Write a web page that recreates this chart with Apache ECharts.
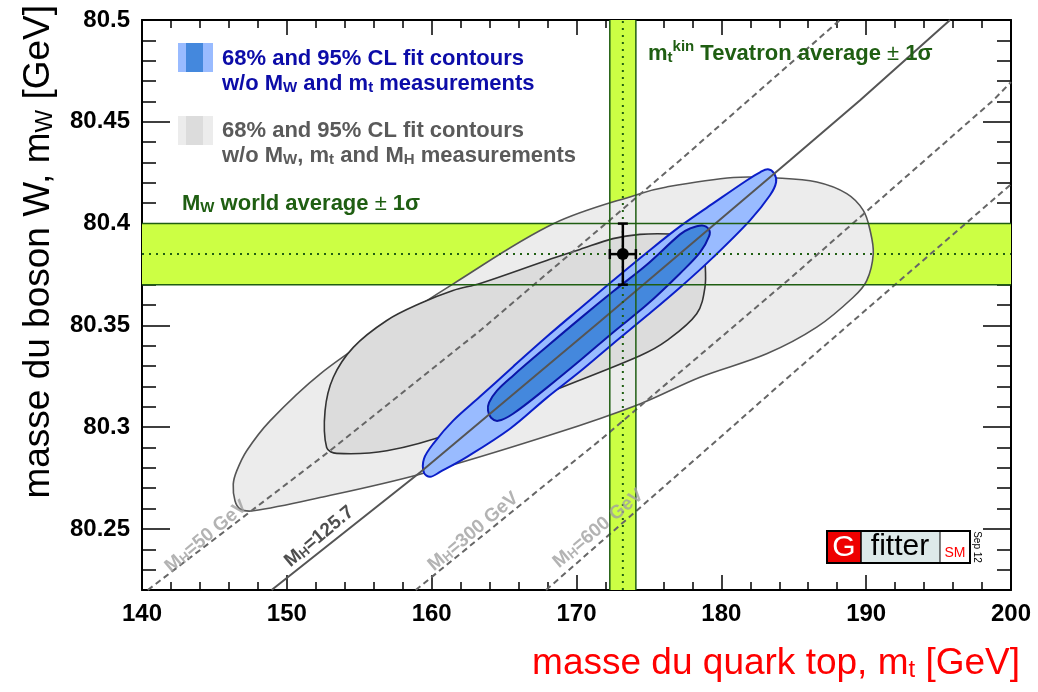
<!DOCTYPE html>
<html>
<head>
<meta charset="utf-8">
<script src="https://cdn.jsdelivr.net/npm/echarts@6/dist/echarts.min.js"></script>
<style>
  html, body { margin: 0; padding: 0; background: #fff; }
  #chart { width: 1038px; height: 692px; }
</style>
</head>
<body>
<div id="chart"></div>
<script>
// ---- axes ----
const mtRange = [140, 200];
const mwRange = [80.22, 80.5];
const xTickStep = 10;
const yTickValues = [80.25, 80.3, 80.35, 80.4, 80.45, 80.5];
const yTickLabels = ['80.25', '80.3', '80.35', '80.4', '80.45', '80.5'];
const yMinorTicks = [];
for (let k = 8022; k <= 8050; k++) yMinorTicks.push(k / 100);

// ---- measurements ----
const mwWorld = 80.385, mwWorldErr = 0.015;
const mtTevatron = 173.2, mtTevatronErr = 0.9;

// ---- fit contours [m_t, M_W] ----
// without M_W, m_t and M_H measurements
const fitFree95 = [
  [146.30, 80.2720], [146.54, 80.2785], [147.23, 80.2884], [148.84, 80.3031], [152.29, 80.3261],
  [156.90, 80.3491], [161.49, 80.3704], [168.40, 80.3999], [174.38, 80.4147], [176.23, 80.4180],
  [180.83, 80.4226], [183.82, 80.4224], [186.59, 80.4204], [188.66, 80.4147], [189.80, 80.4065],
  [190.27, 80.3967], [190.49, 80.3852], [190.04, 80.3720], [189.11, 80.3638], [186.59, 80.3491],
  [183.13, 80.3360], [178.53, 80.3245], [174.38, 80.3114], [168.40, 80.2966], [159.19, 80.2769],
  [152.29, 80.2654], [147.68, 80.2589], [146.77, 80.2598], [146.42, 80.2638]
];
const fitFree68 = [
  [152.64, 80.3081], [153.21, 80.3245], [154.59, 80.3392], [156.90, 80.3524], [159.19, 80.3607],
  [161.47, 80.3671], [163.34, 80.3706], [167.94, 80.3819], [170.24, 80.3873], [172.52, 80.3926],
  [174.38, 80.3947], [176.46, 80.3949], [178.18, 80.3937], [178.76, 80.3907], [178.87, 80.3819],
  [178.87, 80.3688], [178.30, 80.3557], [176.23, 80.3425], [174.38, 80.3351], [168.40, 80.3179],
  [161.49, 80.2974], [156.90, 80.2884], [153.44, 80.2871], [152.75, 80.2900]
];
// without M_W and m_t measurements (M_H included)
const fitHiggs95 = [
  [159.47, 80.2845], [160.16, 80.2923], [161.47, 80.3031], [163.34, 80.3150], [165.62, 80.3297],
  [167.96, 80.3445], [170.24, 80.3583], [172.52, 80.3720], [174.87, 80.3858], [177.15, 80.3986],
  [179.43, 80.4099], [181.77, 80.4213], [182.67, 80.4252], [183.22, 80.4267], [183.64, 80.4247],
  [183.78, 80.4203], [183.36, 80.4139], [181.98, 80.4016], [179.43, 80.3834], [177.15, 80.3686],
  [174.87, 80.3548], [172.52, 80.3410], [170.24, 80.3273], [167.96, 80.3145], [165.41, 80.2992],
  [162.44, 80.2854], [160.58, 80.2780], [159.89, 80.2756], [159.47, 80.2776]
];
const fitHiggs68 = [
  [164.58, 80.3031], [165.62, 80.3066], [167.96, 80.3194], [170.24, 80.3327], [172.52, 80.3465],
  [174.87, 80.3602], [177.15, 80.3755], [178.53, 80.3858], [179.15, 80.3937], [179.15, 80.3971],
  [178.67, 80.3991], [177.84, 80.3976], [177.15, 80.3947], [174.87, 80.3799], [172.52, 80.3666],
  [170.24, 80.3533], [167.96, 80.3396], [165.62, 80.3253], [164.51, 80.3179], [163.96, 80.3120],
  [163.89, 80.3081], [164.10, 80.3046]
];

// ---- SM prediction for fixed M_H ----
const lineMH50 = [[140.4, 80.22], [152.98, 80.2884], [163.34, 80.3474], [177.15, 80.4311], [188.19, 80.5]];
const lineMH125 = [[148.95, 80.22], [159.19, 80.2777], [171.62, 80.3519], [184.74, 80.4311], [189.58, 80.4606], [195.79, 80.5]];
const lineMH300 = [[158.9, 80.22], [171.85, 80.2949], [184.74, 80.3730], [198.78, 80.4606], [200, 80.4695]];
const lineMH600 = [[167.9, 80.22], [179.91, 80.2949], [184.74, 80.3253], [200, 80.4193]];
const mhLineNames = ['50 GeV', '125.7', '300 GeV', '600 GeV'];

// label anchors along the M_H lines (data coordinates)
const mhLabelAnchors = [[144.35, 80.2470], [152.15, 80.2470], [162.79, 80.2494], [171.42, 80.2509]];
const mhLabelColors = ['#a0a0a0', '#222222', '#a0a0a0', '#a0a0a0'];

// ---- styling ----
const FONT = '"Liberation Sans", Arial, Helvetica, sans-serif';
const GREEN = '#1f5e12';
const BAND = '#ccff44';

function richSet(size, weight, color) {
  const small = Math.round(size * 0.66);
  return {
    b: { fontSize: size, fontWeight: weight, fontFamily: FONT, color: color, fill: color, lineHeight: size + 4, verticalAlign: 'bottom' },
    n: { fontSize: size, fontWeight: 'normal', fontFamily: FONT, color: color, fill: color, lineHeight: size + 4, verticalAlign: 'bottom' },
    s: { fontSize: small, fontWeight: weight, fontFamily: FONT, color: color, fill: color, lineHeight: 4, verticalAlign: 'bottom' },
    p: { fontSize: small, fontWeight: weight, fontFamily: FONT, color: color, fill: color, lineHeight: 6, verticalAlign: 'top' }
  };
}

function contour(pts, fill, stroke, width, z) {
  return {
    type: 'custom', coordinateSystem: 'cartesian2d', z: z, silent: true, clip: true,
    data: [pts[0]],
    renderItem: function (params, api) {
      return {
        type: 'polygon',
        shape: { points: pts.map(function (p) { return api.coord(p); }), smooth: 0.35 },
        style: { fill: fill, stroke: stroke, lineWidth: width }
      };
    }
  };
}

function mhLine(pts, color, dash) {
  return {
    type: 'line', data: pts, symbol: 'none', showSymbol: false, silent: true, z: 8,
    lineStyle: { color: color, width: 2, type: dash }
  };
}

const axisLineStyle = { color: '#000', width: 2 };
const tickStyle = { color: '#000', width: 1.5 };

function xAxisDef(pos, labels) {
  return {
    type: 'value', position: pos, min: mtRange[0], max: mtRange[1], interval: xTickStep,
    axisLine: { show: true, onZero: false, lineStyle: axisLineStyle },
    axisTick: { show: true, inside: true, length: 15, lineStyle: tickStyle },
    minorTick: { show: true, splitNumber: 5, length: 8, lineStyle: tickStyle },
    axisLabel: { show: labels, margin: 12, color: '#000', fontSize: 24, fontWeight: 'bold', fontFamily: FONT },
    splitLine: { show: false }, minorSplitLine: { show: false }
  };
}
function yAxisDef(pos, values, len, labels, line) {
  return {
    type: 'value', position: pos, min: mwRange[0], max: mwRange[1],
    axisLine: { show: line, onZero: false, lineStyle: axisLineStyle },
    axisTick: { show: true, inside: true, length: len, lineStyle: tickStyle, customValues: values },
    axisLabel: {
      show: labels, customValues: values, margin: 12, color: '#000', fontSize: 24, fontWeight: 'bold', fontFamily: FONT,
      showMinLabel: true, showMaxLabel: true,
      formatter: function (v) {
        const i = yTickValues.findIndex(function (t) { return Math.abs(t - v) < 1e-6; });
        return i >= 0 ? yTickLabels[i] : '';
      }
    },
    splitLine: { show: false }
  };
}

const chart = echarts.init(document.getElementById('chart'));

const option = {
  animation: false,
  backgroundColor: '#fff',
  grid: { left: 142, right: 27, top: 20, bottom: 102, containLabel: false, outerBoundsMode: 'none' },
  xAxis: [xAxisDef('bottom', true), xAxisDef('top', false)],
  yAxis: [
    yAxisDef('left', yTickValues, 28, true, true),
    yAxisDef('left', yMinorTicks, 14, false, false),
    yAxisDef('right', yTickValues, 28, false, true),
    yAxisDef('right', yMinorTicks, 14, false, false)
  ],
  series: [
    // 1 sigma bands of the direct measurements
    {
      type: 'line', data: [], z: 1, silent: true,
      markArea: {
        silent: true, itemStyle: { color: BAND },
        data: [
          [{ yAxis: mwWorld - mwWorldErr }, { yAxis: mwWorld + mwWorldErr }],
          [{ xAxis: mtTevatron - mtTevatronErr }, { xAxis: mtTevatron + mtTevatronErr }]
        ]
      }
    },
    contour(fitFree95, '#ececec', '#555555', 1.6, 2),
    contour(fitFree68, '#dcdcdc', '#333333', 1.6, 3),
    contour(fitHiggs95, '#99bbff', '#0b1ec8', 2, 4),
    contour(fitHiggs68, '#4488dd', '#0a16a8', 2, 5),
    // band edges and central values
    {
      type: 'custom', coordinateSystem: 'cartesian2d', z: 9, silent: true,
      data: [[mtTevatron, mwWorld, mtTevatronErr, mwWorldErr]],
      renderItem: function (params, api) {
        const x = api.value(0), y = api.value(1), ex = api.value(2), ey = api.value(3);
        const solid = { stroke: GREEN, lineWidth: 1.5 };
        const dotted = { stroke: GREEN, lineWidth: 2, lineDash: [2, 5] };
        const hLine = function (v, st) {
          const a = api.coord([mtRange[0], v]), b = api.coord([mtRange[1], v]);
          return { type: 'line', shape: { x1: a[0], y1: a[1], x2: b[0], y2: b[1] }, style: st };
        };
        const vLine = function (v, st) {
          const a = api.coord([v, mwRange[0]]), b = api.coord([v, mwRange[1]]);
          return { type: 'line', shape: { x1: a[0], y1: a[1], x2: b[0], y2: b[1] }, style: st };
        };
        return {
          type: 'group',
          children: [
            hLine(y - ey, solid), hLine(y + ey, solid), hLine(y, dotted),
            vLine(x - ex, solid), vLine(x + ex, solid), vLine(x, dotted)
          ]
        };
      }
    },
    mhLine(lineMH50, '#666666', [6, 4]),
    mhLine(lineMH125, '#555555', 'solid'),
    mhLine(lineMH300, '#666666', [6, 4]),
    mhLine(lineMH600, '#666666', [6, 4]),
    // M_H labels along the lines
    {
      type: 'scatter', silent: true, z: 12, symbolSize: 1,
      itemStyle: { color: 'rgba(0,0,0,0)' },
      data: mhLabelAnchors.map(function (p, i) {
        return {
          value: p,
          label: {
            show: true, position: 'inside', rotate: 40,
            formatter: '{b|M}{s|H}{b|=' + mhLineNames[i] + '}',
            rich: richSet(19, 'bold', mhLabelColors[i])
          }
        };
      })
    },
    // measured point with 1 sigma errors
    {
      type: 'custom', coordinateSystem: 'cartesian2d', z: 20, silent: true,
      data: [[mtTevatron, mwWorld, mtTevatronErr, mwWorldErr]],
      renderItem: function (params, api) {
        const x = api.value(0), y = api.value(1), ex = api.value(2), ey = api.value(3);
        const c = api.coord([x, y]);
        const l = api.coord([x - ex, y]), r = api.coord([x + ex, y]);
        const t = api.coord([x, y + ey]), b = api.coord([x, y - ey]);
        const cap = 5;
        const st = { stroke: '#000', lineWidth: 2.5 };
        const seg = function (x1, y1, x2, y2) { return { type: 'line', shape: { x1: x1, y1: y1, x2: x2, y2: y2 }, style: st }; };
        return {
          type: 'group',
          children: [
            seg(l[0], l[1], r[0], r[1]),
            seg(t[0], t[1], b[0], b[1]),
            seg(t[0] - cap, t[1], t[0] + cap, t[1]),
            seg(b[0] - cap, b[1], b[0] + cap, b[1]),
            seg(l[0], l[1] - cap, l[0], l[1] + cap),
            seg(r[0], r[1] - cap, r[0], r[1] + cap),
            { type: 'circle', shape: { cx: c[0], cy: c[1], r: 6 }, style: { fill: '#000' } }
          ]
        };
      }
    }
  ],
  graphic: [
    // legend swatches
    { type: 'rect', shape: { x: 178, y: 43, width: 35, height: 29 }, style: { fill: '#99bbff' }, z: 30 },
    { type: 'rect', shape: { x: 186, y: 43, width: 17, height: 29 }, style: { fill: '#4488dd' }, z: 31 },
    { type: 'rect', shape: { x: 178, y: 116, width: 35, height: 29 }, style: { fill: '#ececec' }, z: 30 },
    { type: 'rect', shape: { x: 186, y: 116, width: 17, height: 29 }, style: { fill: '#dcdcdc' }, z: 31 },
    {
      type: 'text', x: 222, y: 57, z: 30,
      style: { text: '{b|68% and 95% CL fit contours}', rich: richSet(22, 'bold', '#0c0ca8'), align: 'left', verticalAlign: 'middle', textAlign: 'left', textVerticalAlign: 'middle' }
    },
    {
      type: 'text', x: 222, y: 82, z: 30,
      style: { text: '{b|w/o M}{s|W}{b| and m}{s|t}{b| measurements}', rich: richSet(22, 'bold', '#0c0ca8'), align: 'left', verticalAlign: 'middle', textAlign: 'left', textVerticalAlign: 'middle' }
    },
    {
      type: 'text', x: 222, y: 129, z: 30,
      style: { text: '{b|68% and 95% CL fit contours}', rich: richSet(22, 'bold', '#5a5a5a'), align: 'left', verticalAlign: 'middle', textAlign: 'left', textVerticalAlign: 'middle' }
    },
    {
      type: 'text', x: 222, y: 154, z: 30,
      style: { text: '{b|w/o M}{s|W}{b|, m}{s|t}{b| and M}{s|H}{b| measurements}', rich: richSet(22, 'bold', '#5a5a5a'), align: 'left', verticalAlign: 'middle', textAlign: 'left', textVerticalAlign: 'middle' }
    },
    {
      type: 'text', x: 182, y: 202, z: 30,
      style: { text: '{b|M}{s|W}{b| world average }{n|±}{b| 1σ}', rich: richSet(22, 'bold', GREEN), align: 'left', verticalAlign: 'middle', textAlign: 'left', textVerticalAlign: 'middle' }
    },
    {
      type: 'text', x: 648, y: 52, z: 30,
      style: { text: '{b|m}{s|t}{p|kin}{b| Tevatron average }{n|±}{b| 1σ}', rich: richSet(22, 'bold', GREEN), align: 'left', verticalAlign: 'middle', textAlign: 'left', textVerticalAlign: 'middle' }
    },
    // axis titles
    {
      type: 'text', x: 1020, y: 662, z: 30,
      style: { text: '{b|masse du quark top, m}{s|t}{b| [GeV]}', rich: richSet(37, 'normal', '#ff0000'), align: 'right', verticalAlign: 'middle', textAlign: 'right', textVerticalAlign: 'middle' }
    },
    {
      type: 'text', x: 37, y: 5, rotation: Math.PI / 2, z: 30,
      style: { text: '{b|masse du boson W, m}{s|W}{b| [GeV]}', rich: richSet(37, 'normal', '#000000'), align: 'right', verticalAlign: 'middle', textAlign: 'right', textVerticalAlign: 'middle' }
    },
    // Gfitter badge
    { type: 'rect', shape: { x: 827, y: 531, width: 34, height: 32 }, style: { fill: '#ee0000' }, z: 30 },
    { type: 'rect', shape: { x: 861, y: 531, width: 79, height: 32 }, style: { fill: '#dde9e9' }, z: 30 },
    { type: 'rect', shape: { x: 940, y: 531, width: 30, height: 32 }, style: { fill: '#ffffff', stroke: '#000', lineWidth: 1 }, z: 30 },
    { type: 'line', shape: { x1: 861, y1: 531, x2: 861, y2: 563 }, style: { stroke: '#000', lineWidth: 1.5 }, z: 31 },
    { type: 'rect', shape: { x: 827, y: 531, width: 143, height: 32 }, style: { fill: 'none', stroke: '#000', lineWidth: 2 }, z: 32 },
    { type: 'text', x: 844, y: 548, z: 33, style: { text: 'G', fill: '#fff', font: '30px ' + FONT, align: 'center', verticalAlign: 'middle', textAlign: 'center', textVerticalAlign: 'middle' } },
    { type: 'text', x: 900, y: 547, z: 33, style: { text: 'fitter', fill: '#000', font: '30px ' + FONT, align: 'center', verticalAlign: 'middle', textAlign: 'center', textVerticalAlign: 'middle' } },
    { type: 'text', x: 955, y: 553, z: 33, style: { text: 'SM', fill: '#ff0000', font: '14px ' + FONT, align: 'center', verticalAlign: 'middle', textAlign: 'center', textVerticalAlign: 'middle' } },
    { type: 'text', x: 977, y: 547, rotation: -Math.PI / 2, z: 33, style: { text: 'Sep 12', fill: '#000', font: '10px ' + FONT, align: 'center', verticalAlign: 'middle', textAlign: 'center', textVerticalAlign: 'middle' } }
  ]
};

chart.setOption(option);
</script>
</body>
</html>
